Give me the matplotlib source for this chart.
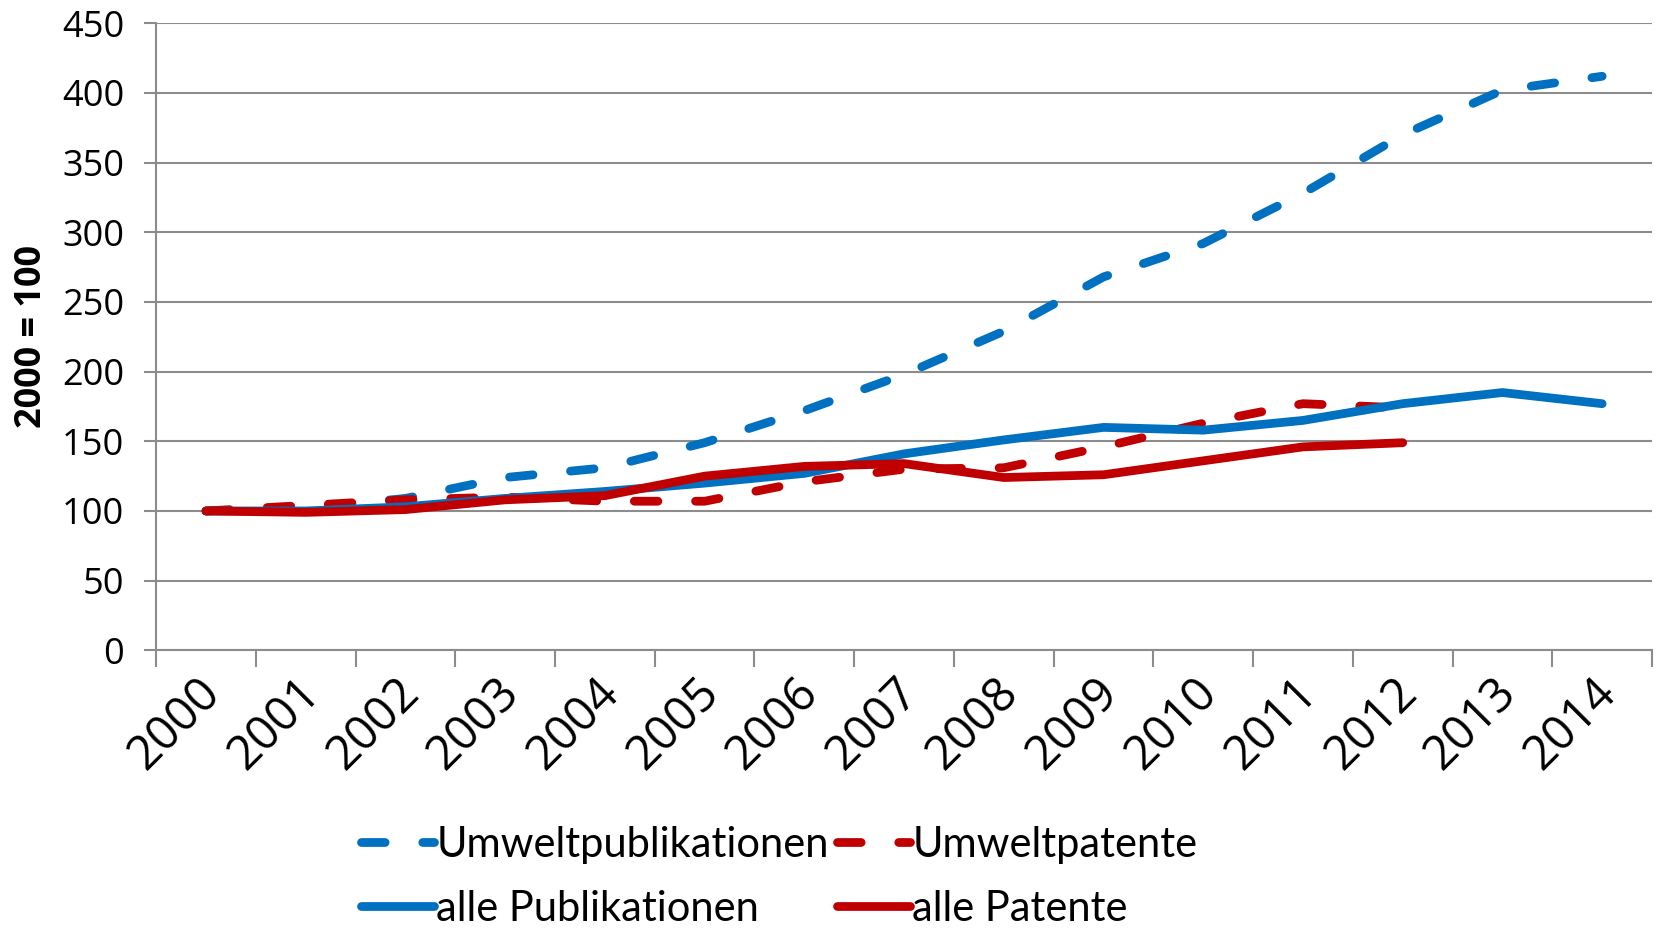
import matplotlib.pyplot as plt
import matplotlib.transforms as mtransforms
import numpy as np

years = [str(y) for y in range(2000, 2015)]
umwelt_pub = [100, 102, 109, 124, 131, 149, 172, 198, 229, 268, 292, 328, 370, 402, 412]
alle_pub = [100, 100, 103, 109, 114, 120, 127, 141, 151, 160, 158, 165, 177, 185, 177]
umwelt_pat = [100, 104, 108, 110, 107, 107, 121, 130, 131, 146, 163, 177, 174]
alle_pat = [100, 99, 101, 108, 111, 125, 132, 134, 124, 126, 136, 146, 149]

blue = '#0070C0'
red = '#C00000'
grid = '#8c8c8c'

plt.rcParams['font.family'] = ['Open Sans', 'DejaVu Sans']

fig = plt.figure(figsize=(16.61, 9.33), dpi=100)
ax = fig.add_axes([0.094, 0.303, 0.9006, 0.672])

x = np.arange(len(years))
lw = 6.3
dash = (2.7, 4.3)
l1, = ax.plot(x, umwelt_pub, color=blue, lw=lw, dashes=dash,
              dash_capstyle='round', solid_capstyle='round', label='Umweltpublikationen')
l2, = ax.plot(x[:len(umwelt_pat)], umwelt_pat, color=red, lw=lw, dashes=dash,
              dash_capstyle='round', solid_capstyle='round', label='Umweltpatente')
l3, = ax.plot(x, alle_pub, color=blue, lw=lw, solid_capstyle='round', label='alle Publikationen')
l4, = ax.plot(x[:len(alle_pat)], alle_pat, color=red, lw=lw, solid_capstyle='round', label='alle Patente')

ax.set_xlim(-0.5, len(years) - 0.5)
ax.set_ylim(0, 450)
ax.set_yticks(range(0, 451, 50))
ax.tick_params(axis='y', labelsize=26, length=9, width=1.5, color=grid, pad=14)
ax.yaxis.grid(True, color=grid, lw=1.5)
ax.set_axisbelow(True)

ax.set_xticks(x)
ax.set_xticklabels(years, rotation=45, ha='right', rotation_mode='anchor', fontsize=34)
ax.set_xticks(np.arange(-0.5, len(years)), minor=True)
ax.tick_params(axis='x', which='major', length=0, pad=16)
ax.tick_params(axis='x', which='minor', length=12, width=1.5, color=grid)
shift = mtransforms.ScaledTranslation(-7 / 72, 3 / 72, fig.dpi_scale_trans)
for lab in ax.get_xticklabels():
    lab.set_transform(lab.get_transform() + shift)

for s in ['top', 'right']:
    ax.spines[s].set_visible(False)
for s in ['left', 'bottom']:
    ax.spines[s].set_color(grid)
    ax.spines[s].set_linewidth(1.5)

ax.set_ylabel('2000 = 100', fontsize=26, fontweight='bold')
ax.yaxis.set_label_coords(-0.071, 0.5)

# legend filled column-wise, so order gives rows: l1 l2 / l3 l4
fig.legend(handles=[l1, l3, l2, l4], ncol=2, loc='upper left',
           bbox_to_anchor=(0.195, 0.155), frameon=False, handlelength=1.75,
           handletextpad=0.05, columnspacing=0.2, labelspacing=0.62,
           prop={'family': 'Lato', 'size': 30})

fig.savefig('out.png', dpi=100)
